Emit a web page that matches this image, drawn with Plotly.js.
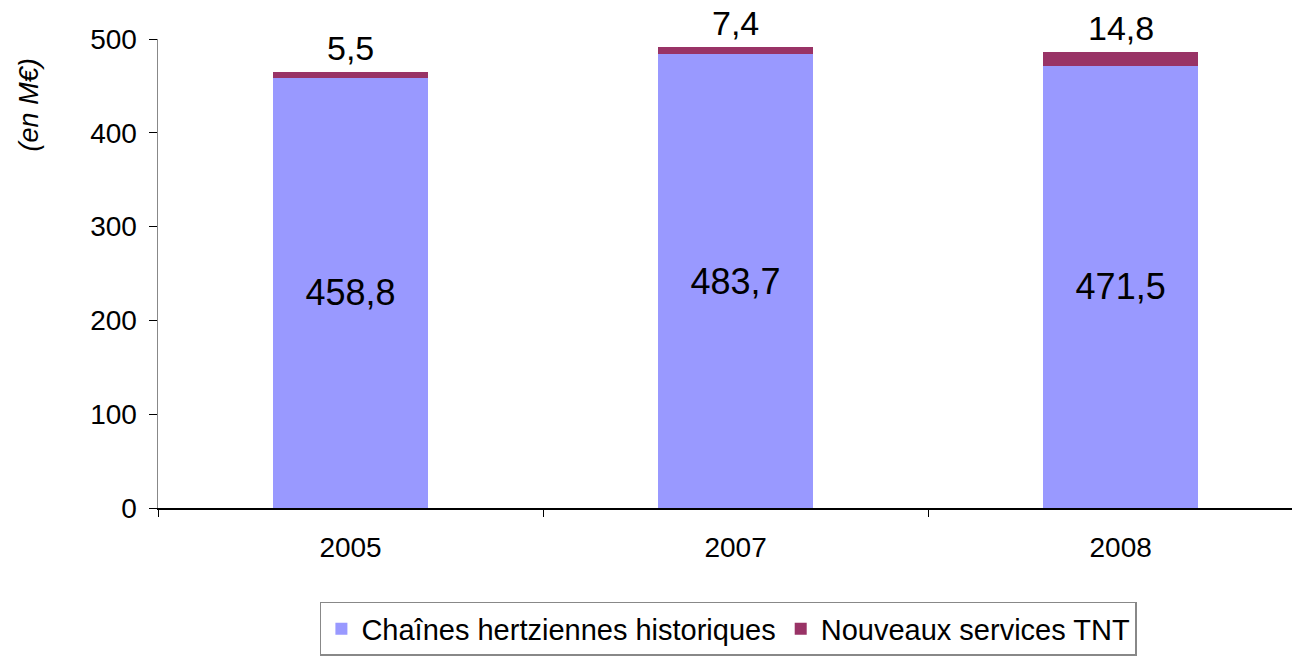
<!DOCTYPE html>
<html>
<head>
<meta charset="utf-8">
<script src="https://cdn.plot.ly/plotly-3.0.1.min.js"></script>
<style>html,body{margin:0;padding:0;background:#fff;}</style>
</head>
<body>
<div id="chart" style="width:1292px;height:656px;"></div>
<script>
var years = ["2005", "2007", "2008"];
var historiques = [458.8, 483.7, 471.5];
var tnt = [5.5, 7.4, 14.8];
var histLabels = ["458,8", "483,7", "471,5"];
var tntLabels = ["5,5", "7,4", "14,8"];
var yTicks = [0, 100, 200, 300, 400, 500];

var FONT = "Liberation Sans, Arial, sans-serif";

var traces = [
  {
    type: "bar", name: "Chaînes hertziennes historiques",
    x: years, y: historiques, text: histLabels,
    textposition: "inside", insidetextanchor: "middle",
    textfont: {family: FONT, size: 36, color: "#000"},
    marker: {color: "#9999FF"}, hoverinfo: "none"
  },
  {
    type: "bar", name: "Nouveaux services TNT",
    x: years, y: tnt, textposition: "none",
    marker: {color: "#993366"}, hoverinfo: "none"
  }
];

var annotations = years.map(function (yr, i) {
  return {
    x: i, y: historiques[i] + tnt[i], xref: "x", yref: "y",
    text: tntLabels[i], showarrow: false, yanchor: "bottom", yshift: 4,
    borderpad: 0,
    font: {family: FONT, size: 34, color: "#000"}
  };
});
annotations.push({
  xref: "paper", yref: "paper", x: -0.114, y: 0.86, xanchor: "center", yanchor: "middle",
  text: "<i>(en M€)</i>", textangle: -90, showarrow: false,
  font: {family: FONT, size: 27, color: "#000"}
});

var layout = {
  width: 1292, height: 656,
  margin: {l: 158, r: 0, t: 39, b: 146},
  paper_bgcolor: "#fff", plot_bgcolor: "#fff",
  barmode: "stack", bargap: 0.596,
  showlegend: true,
  legend: {
    orientation: "h", x: 0.503, xanchor: "center", y: -0.2, yanchor: "top",
    bordercolor: "#888", borderwidth: 1.5,
    font: {family: FONT, size: 29, color: "#000"},
    traceorder: "normal"
  },
  xaxis: {
    type: "category", range: [-0.5, 2.445],
    showline: true, linecolor: "#000", linewidth: 1.5,
    ticks: "outside", tickson: "boundaries", ticklen: 7, tickcolor: "#000", tickwidth: 1,
    ticklabelstandoff: 14,
    tickfont: {family: FONT, size: 28, color: "#000"},
    showgrid: false, zeroline: false, fixedrange: true
  },
  yaxis: {
    range: [0, 500], tickvals: yTicks, ticktext: yTicks.map(String),
    showline: true, linecolor: "#888", linewidth: 1.5,
    ticks: "outside", ticklen: 8, tickcolor: "#000", tickwidth: 1,
    ticklabelstandoff: 6,
    tickfont: {family: FONT, size: 28, color: "#000"},
    showgrid: false, zeroline: false, fixedrange: true
  },
  annotations: annotations
};

Plotly.newPlot("chart", traces, layout, {displayModeBar: false, staticPlot: true});
</script>
</body>
</html>
